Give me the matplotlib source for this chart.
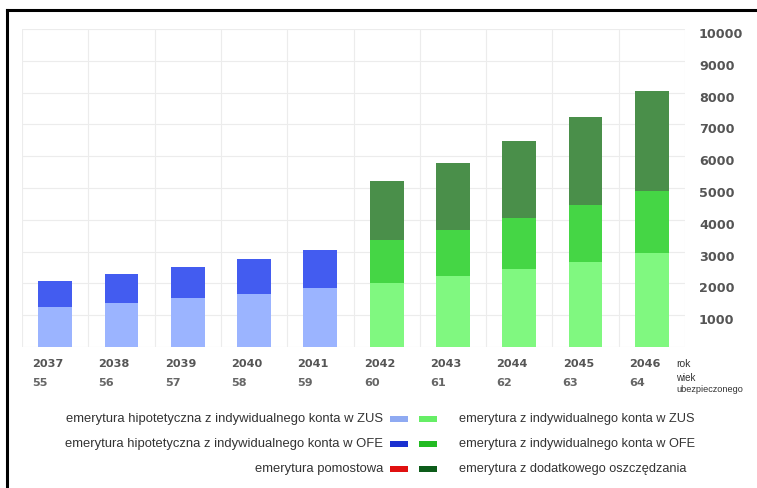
import numpy as np
import matplotlib
matplotlib.use("Agg")
import matplotlib.pyplot as plt
import matplotlib.transforms as mtransforms
from matplotlib.patches import Rectangle
from matplotlib.lines import Line2D

# data
years = ["2037", "2038", "2039", "2040", "2041", "2042", "2043", "2044", "2045", "2046"]
ages = ["55", "56", "57", "58", "59", "60", "61", "62", "63", "64"]
zus_hip = [1260, 1390, 1530, 1680, 1840, 0, 0, 0, 0, 0]
ofe_hip = [810, 890, 980, 1080, 1200, 0, 0, 0, 0, 0]
pomostowa = [0, 0, 0, 0, 0, 0, 0, 0, 0, 0]
zus = [0, 0, 0, 0, 0, 2020, 2230, 2440, 2680, 2960]
ofe = [0, 0, 0, 0, 0, 1330, 1450, 1620, 1770, 1950]
dodatkowe = [0, 0, 0, 0, 0, 1870, 2110, 2420, 2770, 3140]
yticks = [1000, 2000, 3000, 4000, 5000, 6000, 7000, 8000, 9000, 10000]

W, H = 757, 488
narrow = ["Liberation Sans Narrow", "Liberation Sans"]
fig = plt.figure(figsize=(W / 100, H / 100), dpi=100)
ax = fig.add_axes([22 / W, 1 - 347 / H, (685 - 22) / W, (347 - 29) / H])

x = np.arange(len(years)) + 0.5
bw = 0.51
series = [
    (zus_hip, "#9bb4ff"),
    (ofe_hip, "#435cf0"),
    (pomostowa, "#e01010"),
    (zus, "#80f880"),
    (ofe, "#45d645"),
    (dodatkowe, "#4a8f4a"),
]
bottom = np.zeros(len(years))
for vals, col in series:
    v = np.array(vals, dtype=float)
    ax.bar(x, v, bw, bottom=bottom, color=col, linewidth=0, zorder=3)
    bottom += v

ax.set_xlim(0, len(years))
ax.set_ylim(0, 10000)
ax.set_xticks(np.arange(len(years) + 1))
ax.set_xticklabels([])
ax.tick_params(axis="x", length=0)
ax.set_yticks([0] + yticks)
ax.set_yticklabels([""] + [str(t) for t in yticks])
ax.yaxis.tick_right()
ax.tick_params(axis="y", length=0, pad=10, labelsize=9.2, labelcolor="#555555")
for lab in ax.get_yticklabels():
    lab.set_fontweight("bold")
    lab.set_transform(lab.get_transform() + mtransforms.ScaledTranslation(0, -4 / 100, fig.dpi_scale_trans))
ax.grid(True, color="#ececec", linewidth=0.8, zorder=0)
for s in ax.spines.values():
    s.set_visible(False)

# category labels under the bars
tr = mtransforms.blended_transform_factory(ax.transData, fig.transFigure)
for i in range(len(years)):
    xl = x[i] - bw / 2 - 0.09
    fig.text(xl, 1 - 364 / H, years[i], transform=tr, ha="left", va="center",
             fontsize=8.1, fontweight="bold", color="#555555")
    fig.text(xl, 1 - 383 / H, ages[i], transform=tr, ha="left", va="center",
             fontsize=8.1, fontweight="bold", color="#666666")
fig.text(676 / W, 1 - 364 / H, "rok", ha="left", va="center", fontsize=7.5, color="#333333", family=narrow)
fig.text(676 / W, 1 - 378 / H, "wiek", ha="left", va="center", fontsize=7, color="#333333", family=narrow)
fig.text(676 / W, 1 - 389 / H, "ubezpieczonego", ha="left", va="center", fontsize=6.6, color="#333333", family=narrow)

# legend
left_labels = ["emerytura hipotetyczna z indywidualnego konta w ZUS",
               "emerytura hipotetyczna z indywidualnego konta w OFE",
               "emerytura pomostowa"]
right_labels = ["emerytura z indywidualnego konta w ZUS",
                "emerytura z indywidualnego konta w OFE",
                "emerytura z dodatkowego oszczędzania"]
left_cols = ["#8faaf2", "#1a30d0", "#e01010"]
right_cols = ["#66ee66", "#22bb22", "#0d5c1a"]
rows_y = [419, 444, 469]
for k in range(3):
    yc = 1 - rows_y[k] / H
    fig.text(383 / W, yc, left_labels[k], ha="right", va="center", fontsize=9.4, color="#333333", family=narrow)
    fig.patches.append(Rectangle((390 / W, yc - 3 / H), 18 / W, 6 / H, transform=fig.transFigure,
                                 color=left_cols[k], linewidth=0))
    fig.patches.append(Rectangle((419 / W, yc - 3 / H), 18 / W, 6 / H, transform=fig.transFigure,
                                 color=right_cols[k], linewidth=0))
    fig.text(459 / W, yc, right_labels[k], ha="left", va="center", fontsize=9.2, color="#333333", family=narrow)

# frame lines (top and left)
fig.lines.append(Line2D([7 / W, 1], [1 - 10 / H, 1 - 10 / H], transform=fig.transFigure, color="black", linewidth=2.2))
fig.lines.append(Line2D([7 / W, 7 / W], [0, 1 - 10 / H], transform=fig.transFigure, color="black", linewidth=2.2))

fig.savefig("out.png", dpi=100)
